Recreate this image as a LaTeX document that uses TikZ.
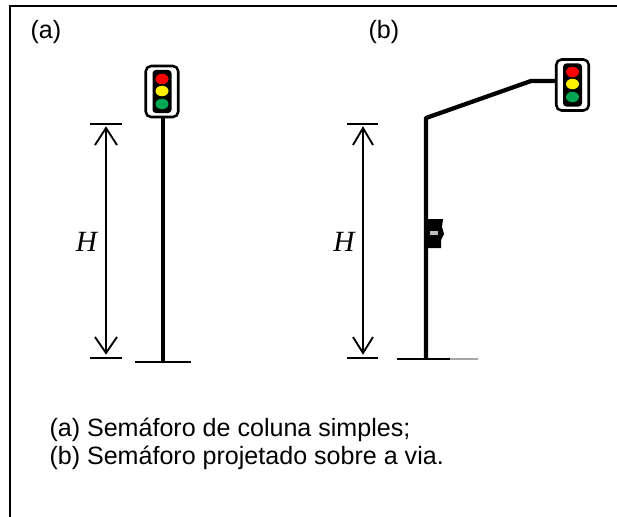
\documentclass[tikz,border=0pt]{standalone}
\usepackage{fontspec}
\setmainfont{Liberation Sans}
\newfontfamily\serifh{Liberation Serif}
\usetikzlibrary{shapes.geometric}
\definecolor{lampgreen}{RGB}{0,166,81}
\tikzset{every picture/.style={line width=0.75pt}}
\tikzset{
  labeltext/.style={anchor=west,inner sep=0pt,font=\fontsize{18.8}{22}\selectfont},
  heighttext/.style={inner sep=0pt,font=\fontsize{22}{24}\serifh\itshape},
  headouter/.style={draw=black,fill=white,line width=1.9pt,rounded corners=4pt,minimum width=32.5*0.75pt,minimum height=51*0.75pt,inner sep=0pt},
  headinner/.style={fill=black,rounded corners=2.5pt,minimum width=19*0.75pt,minimum height=43*0.75pt,inner sep=0pt},
  lamp/.style={ellipse,fill=#1,minimum width=13*0.75pt,minimum height=10.5*0.75pt,inner sep=0pt},
  pole/.style={line width=3.2pt},
  ground/.style={line width=1.3pt},
  dimbar/.style={line width=1.2pt},
  dimline/.style={line width=1.2pt},
  dimhead/.style={line width=1.4pt}
}

\begin{document}
\begin{tikzpicture}[x=0.75pt,y=0.75pt,yscale=-1,xscale=1]
\useasboundingbox (0,0) rectangle (617,517);

% Frame
\draw [line width=1.5pt] (10,517) -- (10,6) -- (617,6) ;

% Column signal
\coordinate (basea) at (163,362);
\coordinate (grounda1) at (135,362);
\coordinate (grounda2) at (191,362);
\node [headouter] (heada) at (162,91.5) {};
\node [headinner] (innera) at (162,91.5) {};
\node [lamp=red] (reda) at (162,79) {};
\node [lamp=yellow] (yellowa) at (162,91) {};
\node [lamp=lampgreen] (greena) at (162,104) {};
\draw [pole] (heada.south -| basea) -- (basea) ;
\draw [ground] (grounda1) -- (grounda2) ;

% Projected signal
\coordinate (baseb) at (426,359);
\coordinate (elbowb) at (426,118);
\coordinate (armb) at (531,81);
\coordinate (groundb1) at (397,359);
\coordinate (groundb2) at (450,359);
\coordinate (groundb3) at (478,359);
\node [headouter] (headb) at (572.5,85) {};
\node [headinner] (innerb) at (572.5,85) {};
\node [lamp=red] (redb) at (572.5,72) {};
\node [lamp=yellow] (yellowb) at (572.5,84) {};
\node [lamp=lampgreen] (greenb) at (572.5,97) {};
\draw [pole,line join=round] (baseb) -- (elbowb) -- (armb) -- (headb.west |- armb) ;
\draw [ground,line width=1.8pt] (groundb1) -- (groundb2) ;
\draw [ground,gray!70] (groundb2) -- (groundb3) ;
% Small box on the pole
\fill (427,219) -- (443,219) -- (442,227) -- (444,234) -- (441,240) -- (441,248) -- (427,248) -- cycle ;
\fill [lightgray] (430,231) rectangle (438,235) ;

% Height of column signal
\coordinate (tophl) at (90,124);
\coordinate (tophr) at (122,124);
\coordinate (bothl) at (90,358);
\coordinate (bothr) at (122,358);
\coordinate (toph) at (106,128);
\coordinate (both) at (106,353);
\draw [dimbar] (tophl) -- (tophr) ;
\draw [dimbar] (bothl) -- (bothr) ;
\draw [dimline] (toph) -- (both) ;
\draw [dimhead] (95,145) -- (toph) -- (117,145) ;
\draw [dimhead] (95,337) -- (both) -- (117,337) ;
\node [heighttext] (labha) at (86.5,242) {H};

% Height of projected signal
\coordinate (tophlb) at (347,124);
\coordinate (tophrb) at (378,124);
\coordinate (bothlb) at (347,358);
\coordinate (bothrb) at (378,358);
\coordinate (tophb) at (363,128);
\coordinate (bothb) at (363,353);
\draw [dimbar] (tophlb) -- (tophrb) ;
\draw [dimbar] (bothlb) -- (bothrb) ;
\draw [dimline] (tophb) -- (bothb) ;
\draw [dimhead] (353,145) -- (tophb) -- (373,145) ;
\draw [dimhead] (353,337) -- (bothb) -- (373,337) ;
\node [heighttext] (labhb) at (344,241.5) {H};

% Text Node
\node [labeltext] (laba) at (30,32) {(a)};
\node [labeltext] (labb) at (368,32) {(b)};
\node [labeltext] (capa) at (49,430) {(a) Semáforo de coluna simples;};
\node [labeltext] (capb) at (49,458) {(b) Semáforo projetado sobre a via.};

\end{tikzpicture}
\end{document}
